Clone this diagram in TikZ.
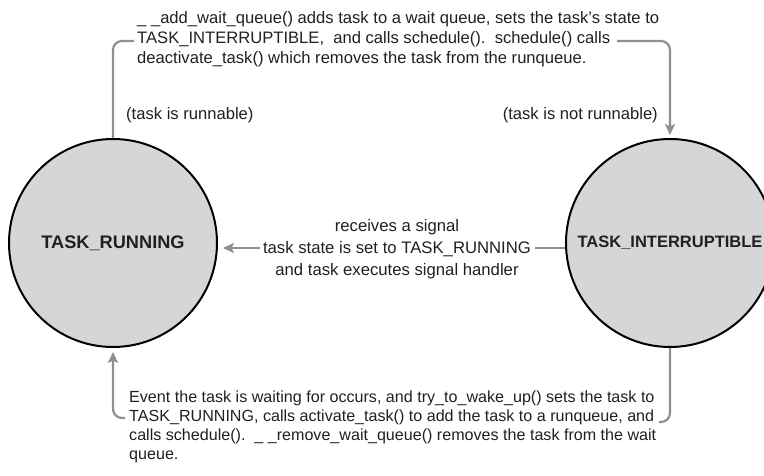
\documentclass[tikz,border=0pt]{standalone}
\usepackage{fontspec}
\setmainfont{Liberation Sans}
\usetikzlibrary{arrows.meta}
\definecolor{conncol}{HTML}{8E8F91}
\definecolor{statefill}{HTML}{D5D6D8}
\definecolor{inkcol}{HTML}{231F20}
\tikzset{
  statenode/.style={circle, draw=black, line width=2pt, fill=statefill, minimum size=208pt, inner sep=0pt, text=inkcol, font=\fontsize{18.2}{20}\selectfont\bfseries},
  conn/.style={draw=conncol, line width=2.2pt, rounded corners=9pt},
  connarrow/.style={conn, -{Stealth[length=11pt,width=10pt,inset=2.5pt]}, shorten >=3pt},
  desc/.style={inner sep=0pt, text=inkcol, font=\fontsize{16.6}{20}\selectfont},
}
\begin{document}
\begin{tikzpicture}[x=1pt,y=-1pt]
\useasboundingbox (0,0) rectangle (764,476);
\clip (0,0) rectangle (764,476);
\node[statenode] (L) at (113,243) {TASK\_RUNNING};
\node[statenode, font=\fontsize{16.5}{20}\selectfont\bfseries] (R) at (670,243) {TASK\_INTERRUPTIBLE};

\node[desc, anchor=north west, align=left] (top) at (137,11) {\_ \_add\_wait\_queue() adds task to a wait queue, sets the task’s state to\\TASK\_INTERRUPTIBLE,\ \ and calls schedule().\ \ schedule() calls\\deactivate\_task() which removes the task from the runqueue.};
\node[desc, anchor=west] (runnable) at (126,115) {(task is runnable)};
\node[desc, anchor=east] (notrunnable) at (658,115) {(task is not runnable)};

\node[desc, align=center, font=\fontsize{16.7}{22}\selectfont] (mid) at (397,249) {receives a signal\\task state is set to TASK\_RUNNING\\and task executes signal handler};

\node[desc, anchor=north west, align=left, font=\fontsize{16.1}{19}\selectfont] (bot) at (129,391) {Event the task is waiting for occurs, and try\_to\_wake\_up() sets the task to\\TASK\_RUNNING, calls activate\_task() to add the task to a runqueue, and\\calls schedule().\ \ \_ \_remove\_wait\_queue() removes the task from the wait\\queue.};

\coordinate (tl) at (134,41);
\coordinate (trr) at (617,41);
\coordinate (ml) at (260,248);
\coordinate (mr) at (535,248);
\coordinate (bl) at (125,418);
\coordinate (br) at (659,422);

\draw[conn] (L.north) |- (tl);
\draw[connarrow] (trr) -| (R.north);
\draw[conn] ([yshift=-5pt]R.west) -- (mr);
\draw[connarrow, shorten >=5pt] (ml) -- ([yshift=-5pt]L.east);
\draw[conn] (R.south) |- (br);
\draw[connarrow, shorten >=4pt] (bl) -| (L.south);
\end{tikzpicture}
\end{document}
